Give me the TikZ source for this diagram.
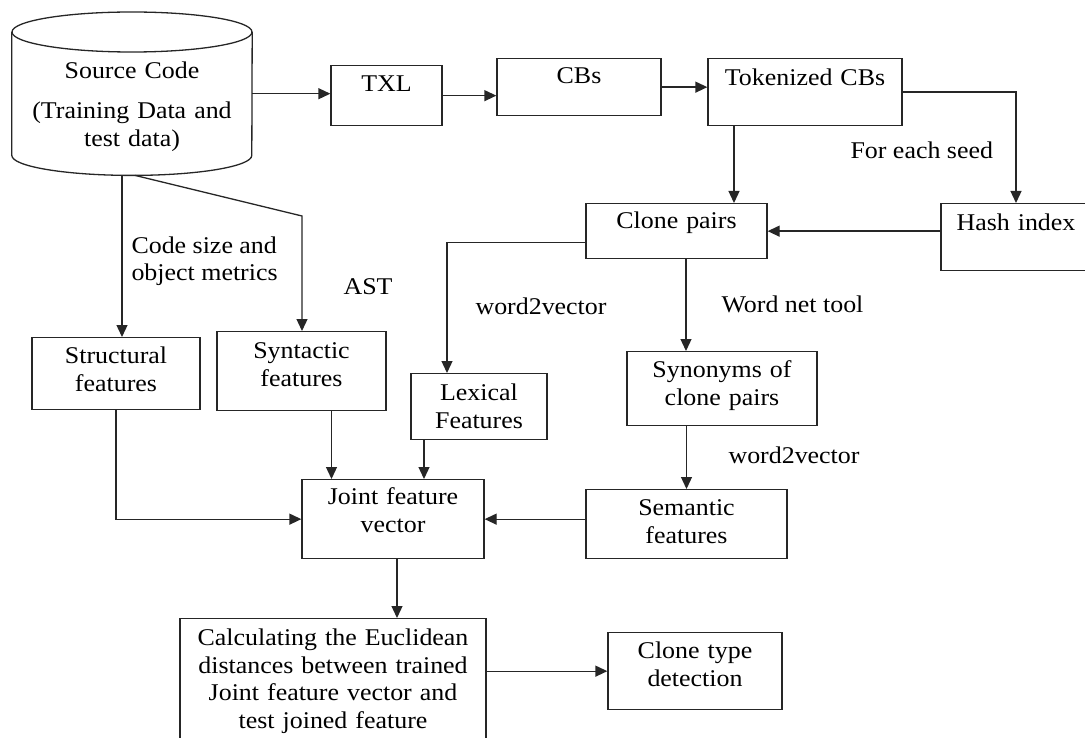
\documentclass[tikz,border=0pt]{standalone}
\usepackage{fontspec}
\setmainfont{Liberation Serif}[FakeStretch=1.08]
\usetikzlibrary{arrows.meta,positioning,calc}

\begin{document}
\begin{tikzpicture}[
  x=1pt, y=-1pt,
  every node/.style={font=\fontsize{24}{27.5}\selectfont},
  box/.style n args={3}{draw=black!85, line width=1.3pt, inner sep=0pt, anchor=north, align=center,
    minimum width=#1pt, text width=#1pt, text height=#2pt, text depth=#3pt},
  arrow/.style={-{Triangle[length=12pt,width=11pt]}, draw=black!85, line width=1.3pt},
  line/.style={draw=black!85, line width=1.3pt},
  lbl/.style={anchor=west, align=left}
]
  \path[use as bounding box, clip] (0,0) rectangle (1085,738);

  % Source code store
  \node[inner sep=0pt, anchor=north, align=center, minimum width=240pt, text width=240pt,
    text height=46pt, text depth=77pt] (src) at (132,32)
    {Source Code\\[13pt](Training Data and\\test data)};
  \draw[line] (src.north west) -- (src.south west)
    arc[start angle=180, end angle=0, x radius=120, y radius=20] -- (src.north east);
  \draw[line] (src.north) ellipse[x radius=120, y radius=20];

  % Top row
  \node[box={111}{26}{34}] (txl) at (386.5,65) {TXL};
  \node[box={164}{25}{32}] (cbs) at (579,58) {CBs};
  \node[box={194}{27}{40}] (tok) at (805,58) {Tokenized CBs};
  \node[box={150}{27}{40}] (hash) at (1016,203) {Hash index};
  \node[box={181}{25}{30}] (clone) at (676.5,203) {Clone pairs};

  % Feature boxes
  \node[box={168}{26}{46}] (struct) at (116,337) {Structural\\features};
  \node[box={169}{27}{52}] (synt) at (301.5,331) {Syntactic\\features};
  \node[box={136}{27}{39}] (lex) at (479,373) {Lexical\\Features};
  \node[box={190}{26}{48}] (syn) at (722,351) {Synonyms of\\clone pairs};
  \node[box={201}{26}{43}] (sem) at (686.5,489) {Semantic\\features};
  \node[box={182}{25}{54}] (joint) at (393,479) {Joint feature\\vector};

  % Detection
  \node[box={306}{27}{115}] (calc) at (333,618)
    {Calculating the Euclidean\\distances between trained\\Joint feature vector and\\test joined feature};
  \node[box={174}{26}{51}] (ctype) at (695,632) {Clone type\\detection};

  % Edges
  \draw[arrow] (src.east) -- (src.east -| txl.west);
  \draw[arrow] (txl.east) -- (txl.east -| cbs.west);
  \draw[arrow] (cbs.east) -- (cbs.east -| tok.west);
  \draw[arrow] (tok.east) -| (hash.north);
  \draw[arrow] ([xshift=-71pt]tok.south) -- ([xshift=-71pt]tok.south |- clone.north);
  \draw[arrow] (clone.east -| hash.west) -- (clone.east);
  \draw[arrow] ([yshift=-11.5pt]clone.west) -| ([xshift=-32pt]lex.north);
  \draw[arrow] ([xshift=9.5pt]clone.south) -- ([xshift=9.5pt]clone.south |- syn.north);
  \draw[arrow] (sem.north |- syn.south) -- (sem.north);
  \draw[arrow] (sem.west |- joint.east) -- (joint.east);

  \coordinate (astbend) at (302,216);
  \draw[arrow] ([xshift=-10pt,yshift=-20pt]src.south) -- ([xshift=-10pt]src.south |- struct.north);
  \draw[arrow] ([xshift=3pt,yshift=-20pt]src.south) -- (astbend) -- (astbend |- synt.north);

  \draw[arrow] (struct.south) |- (joint.west);
  \draw[arrow] ([xshift=30pt]synt.south) -- ([xshift=30pt]synt.south |- joint.north);
  \draw[arrow] ([xshift=-55pt]lex.south) -- ([xshift=-55pt]lex.south |- joint.north);
  \draw[arrow] ([xshift=4pt]joint.south) -- ([xshift=4pt]joint.south |- calc.north);
  \draw[arrow] (ctype.west -| calc.east) -- (ctype.west);

  % Edge labels
  \node[lbl] (metrics) at (128,261) {Code size and\\object metrics};
  \node[lbl] (ast) at (340,287) {AST};
  \node[lbl] (seed) at (847,150) {For each seed};
  \node[lbl] (wvlex) at (472,306) {word2vector};
  \node[lbl] (wnet) at (718,304) {Word net tool};
  \node[lbl] (wvsem) at (725,455) {word2vector};
\end{tikzpicture}
\end{document}
